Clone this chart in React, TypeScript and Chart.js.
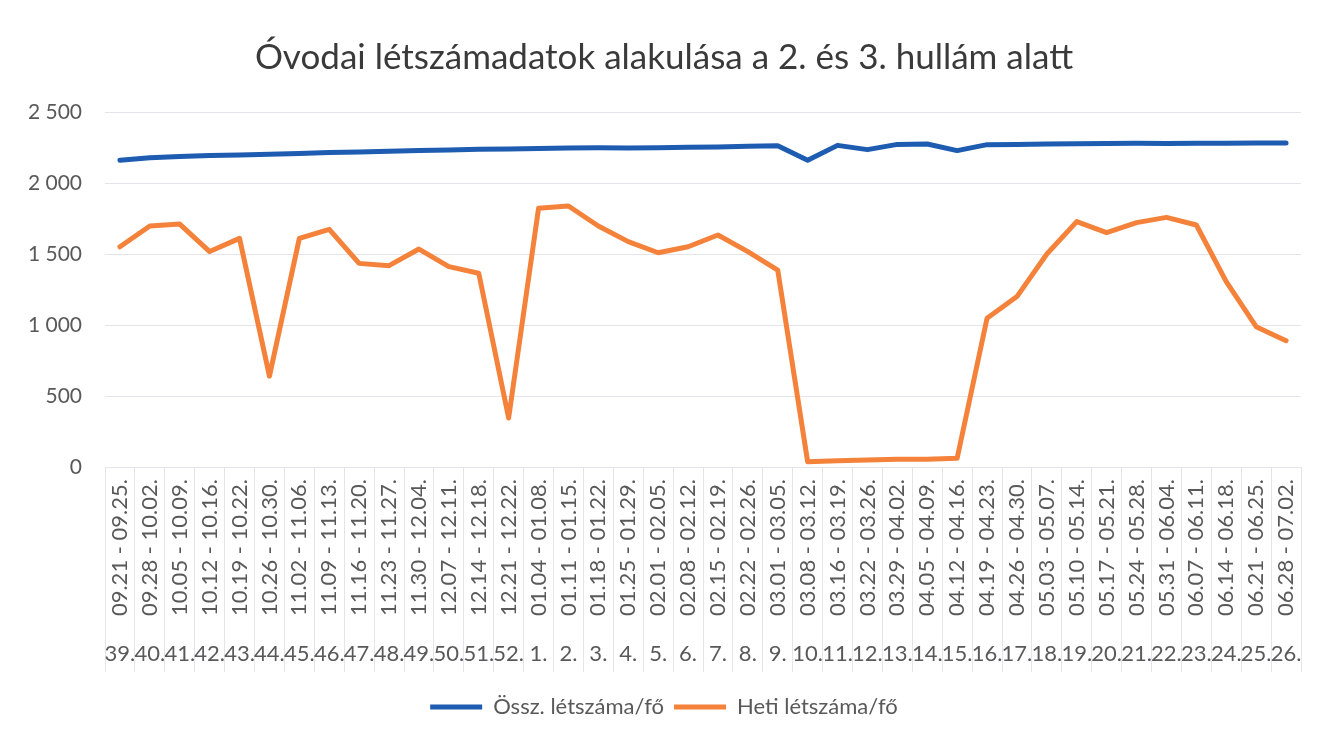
import React, { useEffect, useRef } from 'react';
import { Chart, registerables } from 'chart.js';

Chart.register(...registerables);

const titleText = 'Óvodai létszámadatok alakulása a 2. és 3. hullám alatt';

const dateLabels = [
  '09.21 - 09.25.', '09.28 - 10.02.', '10.05 - 10.09.', '10.12 - 10.16.', '10.19 - 10.22.',
  '10.26 - 10.30.', '11.02 - 11.06.', '11.09 - 11.13.', '11.16 - 11.20.', '11.23 - 11.27.',
  '11.30 - 12.04.', '12.07 - 12.11.', '12.14 - 12.18.', '12.21 - 12.22.', '01.04 - 01.08.',
  '01.11 - 01.15.', '01.18 - 01.22.', '01.25 - 01.29.', '02.01 - 02.05.', '02.08 - 02.12.',
  '02.15 - 02.19.', '02.22 - 02.26.', '03.01 - 03.05.', '03.08 - 03.12.', '03.16 - 03.19.',
  '03.22 - 03.26.', '03.29 - 04.02.', '04.05 - 04.09.', '04.12 - 04.16.', '04.19 - 04.23.',
  '04.26 - 04.30.', '05.03 - 05.07.', '05.10 - 05.14.', '05.17 - 05.21.', '05.24 - 05.28.',
  '05.31 - 06.04.', '06.07 - 06.11.', '06.14 - 06.18.', '06.21 - 06.25.', '06.28 - 07.02.',
];

const weekLabels = [
  '39.', '40.', '41.', '42.', '43.', '44.', '45.', '46.', '47.', '48.', '49.', '50.', '51.', '52.',
  '1.', '2.', '3.', '4.', '5.', '6.', '7.', '8.', '9.', '10.', '11.', '12.', '13.', '14.', '15.',
  '16.', '17.', '18.', '19.', '20.', '21.', '22.', '23.', '24.', '25.', '26.',
];

const osszLetszam = [
  2160, 2178, 2186, 2193, 2197, 2202, 2207, 2214, 2219, 2224, 2229, 2233, 2237, 2240,
  2243, 2246, 2248, 2246, 2249, 2251, 2254, 2258, 2262, 2160, 2265, 2235, 2272, 2275,
  2228, 2270, 2272, 2275, 2277, 2278, 2280, 2278, 2280, 2280, 2281, 2281,
];

const hetiLetszam = [
  1551, 1697, 1711, 1517, 1610, 640, 1610, 1674, 1434, 1418, 1535, 1411, 1364, 345,
  1822, 1838, 1697, 1587, 1509, 1551, 1634, 1517, 1387, 37, 44, 50, 55, 55,
  61, 1047, 1200, 1500, 1728, 1650, 1721, 1758, 1704, 1305, 988, 889,
];

const seriesNames = ['Össz. létszáma/fő', 'Heti létszáma/fő'];

const FONT = 'Lato, "Open Sans", sans-serif';
const TEXT = '#595959';
const GRID = '#e4e4ea';

function fmt(v: number) {
  const s = String(Math.round(v));
  return s.replace(/\B(?=(\d{3})+(?!\d))/g, ' ');
}

export default function App() {
  const ref = useRef<HTMLCanvasElement>(null);

  useEffect(() => {
    document.body.style.margin = '0';
    const chart = new Chart(ref.current!, {
      type: 'line',
      data: {
        labels: dateLabels,
        datasets: [
          {
            label: seriesNames[0],
            data: osszLetszam,
            borderColor: '#1d5cb0',
            backgroundColor: '#1d5cb0',
            borderWidth: 5,
            pointRadius: 0,
            borderJoinStyle: 'round',
            borderCapStyle: 'round',
            tension: 0,
            xAxisID: 'x',
          },
          {
            label: seriesNames[1],
            data: hetiLetszam,
            borderColor: '#f5823a',
            backgroundColor: '#f5823a',
            borderWidth: 5,
            pointRadius: 0,
            borderJoinStyle: 'round',
            borderCapStyle: 'round',
            tension: 0,
            xAxisID: 'x',
          },
        ],
      },
      options: {
        animation: false,
        responsive: true,
        maintainAspectRatio: false,
        layout: { padding: { left: 27, right: 18, top: 0, bottom: 8 } },
        plugins: {
          tooltip: { enabled: false },
          title: {
            display: true,
            text: titleText,
            color: '#3a3a3a',
            font: { family: FONT, size: 35, weight: 'normal', lineHeight: 1.2 },
            padding: { top: 37, bottom: 33 },
          },
          legend: {
            position: 'bottom',
            labels: {
              usePointStyle: true,
              pointStyle: 'line',
              pointStyleWidth: 52,
              color: TEXT,
              font: { family: FONT, size: 22 },
              padding: 10,
            },
          },
        },
        scales: {
          y: {
            min: 0,
            max: 2500,
            ticks: {
              stepSize: 500,
              color: TEXT,
              font: { family: FONT, size: 21 },
              padding: 23,
              callback: (v: any) => fmt(Number(v)),
            },
            grid: { color: GRID, drawTicks: false, lineWidth: 1 },
            border: { display: false },
            afterFit: (s: any) => { s.width = 78; },
          },
          x: {
            type: 'category',
            position: 'bottom',
            offset: true,
            ticks: {
              autoSkip: false,
              minRotation: 90,
              maxRotation: 90,
              color: TEXT,
              font: { family: FONT, size: 22 },
              padding: -158,
            },
            grid: {
              offset: true,
              drawOnChartArea: false,
              drawTicks: true,
              tickLength: 170,
              color: GRID,
            },
            border: { display: true, color: GRID },
            afterFit: (s: any) => { s.height = 170; },
          },
          x2: {
            type: 'category',
            position: 'bottom',
            labels: weekLabels,
            offset: true,
            ticks: {
              autoSkip: false,
              minRotation: 0,
              maxRotation: 0,
              color: TEXT,
              font: { family: FONT, size: 22 },
              padding: -31,
            },
            grid: {
              offset: true,
              drawOnChartArea: false,
              drawTicks: true,
              tickLength: 35,
              color: GRID,
            },
            border: { display: false },
            afterFit: (s: any) => { s.height = 49; },
          },
        },
      },
    });
    return () => chart.destroy();
  }, []);

  return (
    <div style={{ position: 'fixed', left: 0, top: 0, width: 1319, height: 736, background: '#fff' }}>
      <canvas ref={ref} />
    </div>
  );
}
